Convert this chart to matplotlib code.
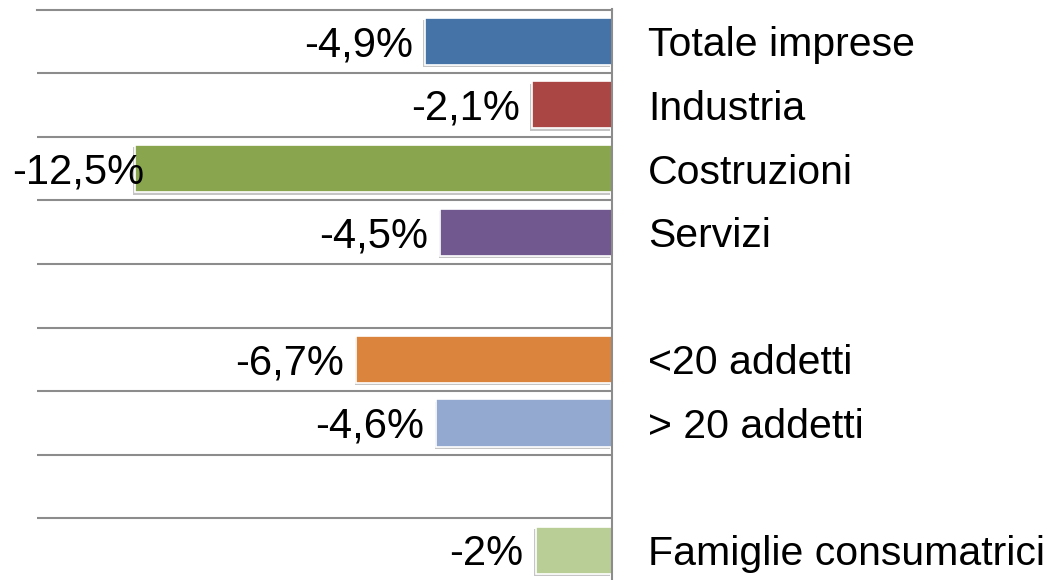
import matplotlib
matplotlib.use("Agg")
import matplotlib.pyplot as plt
import matplotlib.transforms as mtransforms
from matplotlib.patheffects import SimplePatchShadow, Normal
import numpy as np

plt.rcParams['font.family'] = ['Liberation Sans', 'DejaVu Sans']

# Data
categories = ["Totale imprese", "Industria", "Costruzioni", "Servizi", "",
              "<20 addetti", "> 20 addetti", "", "Famiglie consumatrici"]
values = [-4.9, -2.1, -12.5, -4.5, None, -6.7, -4.6, None, -2.0]
value_labels = ["-4,9%", "-2,1%", "-12,5%", "-4,5%", "", "-6,7%", "-4,6%", "", "-2%"]
colors = ["#4572A7", "#AA4643", "#89A54E", "#71588F", None,
          "#DB843D", "#93A9CF", None, "#B9CD96"]

W, H = 1056, 580
fig = plt.figure(figsize=(W / 100, H / 100), dpi=100)
fig.patch.set_facecolor("white")
ax = fig.add_axes([37 / W, (H - 582) / H, (612 - 37) / W, (582 - 9.5) / H])

grid_col = "#8C8C8C"
n = len(categories)
ax.set_xlim(-15.07, 0)
ax.set_ylim(n - 0.5, -0.5)

# bars
shadow = [SimplePatchShadow(offset=(-1.2, -1.8), shadow_rgbFace="#7f7f7f", alpha=0.45), Normal()]
for i, (v, c) in enumerate(zip(values, colors)):
    if v is None:
        continue
    b = ax.barh(i, v, height=0.74, color=c, edgecolor="white", linewidth=1.2, zorder=3)
    for p in b:
        p.set_path_effects(shadow)

# grid lines at row boundaries
ax.set_yticks(np.arange(-0.5, n, 1.0))
ax.set_yticklabels([])
ax.set_xticks([])
ax.tick_params(axis="y", length=0)
ax.grid(axis="y", color=grid_col, linewidth=1.5, zorder=0)
ax.set_axisbelow(True)
for s in ["left", "bottom"]:
    ax.spines[s].set_visible(False)
for s in ["top", "right"]:
    ax.spines[s].set_color(grid_col)
    ax.spines[s].set_linewidth(1.5)
ax.spines["right"].set_zorder(4)

# category labels to the right of the axis
trans = mtransforms.blended_transform_factory(ax.transAxes, ax.transData)
for i, lab in enumerate(categories):
    if not lab:
        continue
    ax.annotate(lab, xy=(1.0, i), xycoords=trans, xytext=(36, -15),
                textcoords="offset pixels", ha="left", va="baseline",
                fontsize=29.5, color="black", annotation_clip=False)

# value labels
texts = []
for i, (v, lab) in enumerate(zip(values, value_labels)):
    if v is None:
        continue
    t = ax.annotate(lab, xy=(v, i), xycoords="data", xytext=(-12, -15),
                    textcoords="offset pixels", ha="right", va="baseline",
                    fontsize=30, color="black", zorder=5, annotation_clip=False)
    texts.append(t)

fig.canvas.draw()
r = fig.canvas.get_renderer()
for t in texts:
    bb = t.get_window_extent(r)
    if bb.x0 < 12:
        dx, dy = t.xyann
        t.xyann = (dx + (12 - bb.x0), dy)
        t.set_bbox(dict(facecolor="none", edgecolor="none", pad=0))

fig.savefig("out.png", dpi=100, facecolor="white")
